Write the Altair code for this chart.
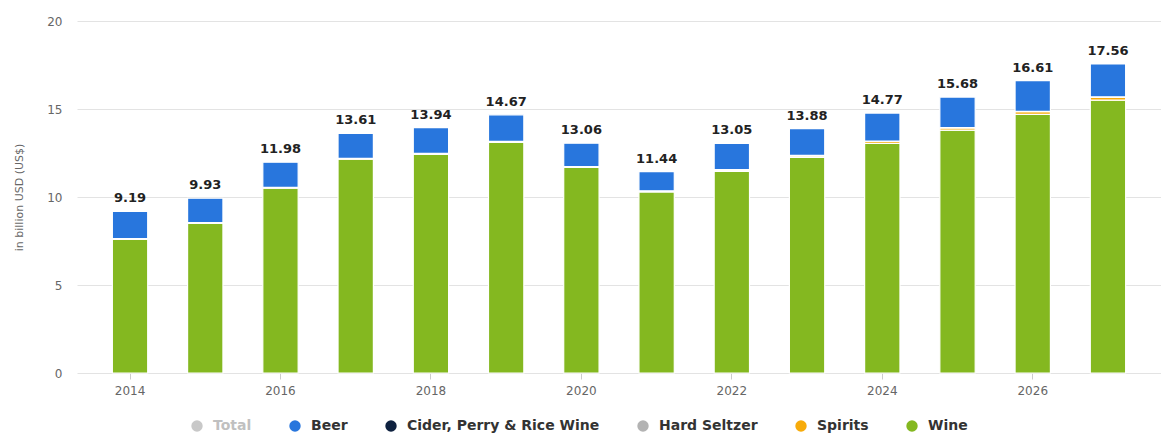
import altair as alt
import pandas as pd

years = list(range(2014, 2028))
totals = [9.19, 9.93, 11.98, 13.61, 13.94, 14.67, 13.06, 11.44, 13.05, 13.88, 14.77, 15.68, 16.61, 17.56]
wine = [7.60, 8.50, 10.50, 12.15, 12.42, 13.10, 11.68, 10.29, 11.45, 12.25, 13.05, 13.80, 14.70, 15.50]
spirits = [0.01, 0.02, 0.03, 0.03, 0.04, 0.04, 0.03, 0.04, 0.08, 0.09, 0.11, 0.13, 0.15, 0.17]
hard_seltzer = [0.01, 0.01, 0.01, 0.01, 0.01, 0.01, 0.01, 0.01, 0.01, 0.01, 0.01, 0.01, 0.01, 0.01]
cider = [0.01, 0.01, 0.01, 0.01, 0.01, 0.01, 0.01, 0.01, 0.01, 0.01, 0.01, 0.01, 0.01, 0.01]
beer = [1.55, 1.39, 1.43, 1.41, 1.46, 1.51, 1.33, 1.09, 1.50, 1.52, 1.59, 1.73, 1.74, 1.87]

categories = ["Total", "Beer", "Cider, Perry & Rice Wine", "Hard Seltzer", "Spirits", "Wine"]
colors = ["#c8c8c8", "#2876dd", "#0e213f", "#b3b3b3", "#f7ab0a", "#84b820"]

series = {
    "Wine": (wine, 0),
    "Spirits": (spirits, 1),
    "Hard Seltzer": (hard_seltzer, 2),
    "Cider, Perry & Rice Wine": (cider, 3),
    "Beer": (beer, 4),
}
rows = []
for name, (vals, order) in series.items():
    for y, v in zip(years, vals):
        rows.append({"year": str(y), "category": name, "value": v, "order": order})
df = pd.DataFrame(rows)
tot_df = pd.DataFrame({"year": [str(y) for y in years], "total": totals,
                       "label": [f"{t:.2f}" for t in totals]})

FONT = "DejaVu Sans"

x_enc = alt.X(
    "year:N",
    title=None,
    scale=alt.Scale(paddingInner=0.53, paddingOuter=0.47),
    axis=alt.Axis(
        labelAngle=0,
        labelExpr="parseInt(datum.value) % 2 == 0 ? datum.label : ''",
        labelColor="#666666",
        labelFont=FONT,
        labelFontSize=12,
        labelPadding=6,
        domain=False,
        tickColor="#cccccc",
        tickSize=6,
        tickOpacity={"condition": {"test": "parseInt(datum.value) % 2 == 0", "value": 1}, "value": 0},
        grid=False,
    ),
)

bars = alt.Chart(df).mark_bar(stroke="white", strokeWidth=1.2).encode(
    x=x_enc,
    y=alt.Y(
        "value:Q",
        stack="zero",
        title="in billion USD (US$)",
        scale=alt.Scale(domain=[0, 20]),
        axis=alt.Axis(
            values=[0, 5, 10, 15, 20],
            labelColor="#666666",
            labelFont=FONT,
            labelFontSize=12,
            labelPadding=15,
            titleColor="#666666",
            titleFont=FONT,
            titleFontSize=11,
            titleFontWeight="normal",
            titlePadding=22,
            domain=False,
            ticks=False,
            gridColor="#e3e3e3",
        ),
    ),
    color=alt.Color(
        "category:N",
        scale=alt.Scale(domain=categories, range=colors),
        legend=alt.Legend(
            title=None,
            orient="none",
            legendX=113,
            legendY=398,
            direction="horizontal",
            columns=6,
            columnPadding=36,
            symbolType="circle",
            symbolSize=130,
            symbolStrokeWidth=0,
            labelFont=FONT,
            labelFontSize=14,
            labelFontWeight=600,
            labelColor={"expr": "datum.label == 'Total' ? '#c0c0c0' : '#333333'"},
            labelOffset=9,
            labelLimit=300,
        ),
    ),
    order=alt.Order("order:Q", sort="ascending"),
)

labels = alt.Chart(tot_df).mark_text(
    baseline="middle", dy=-13, font=FONT, fontSize=13, fontWeight="bold", color="#222222"
).encode(
    x=alt.X("year:N"),
    y=alt.Y("total:Q"),
    text="label:N",
)

chart = alt.layer(bars, labels).properties(
    width=1084,
    height=352,
    padding={"left": 69, "top": 13, "right": 0, "bottom": 64},
    autosize=alt.AutoSizeParams(type="none"),
).configure_view(stroke=None)

chart.save("out.html", embed_options={"renderer": "svg", "actions": False})
